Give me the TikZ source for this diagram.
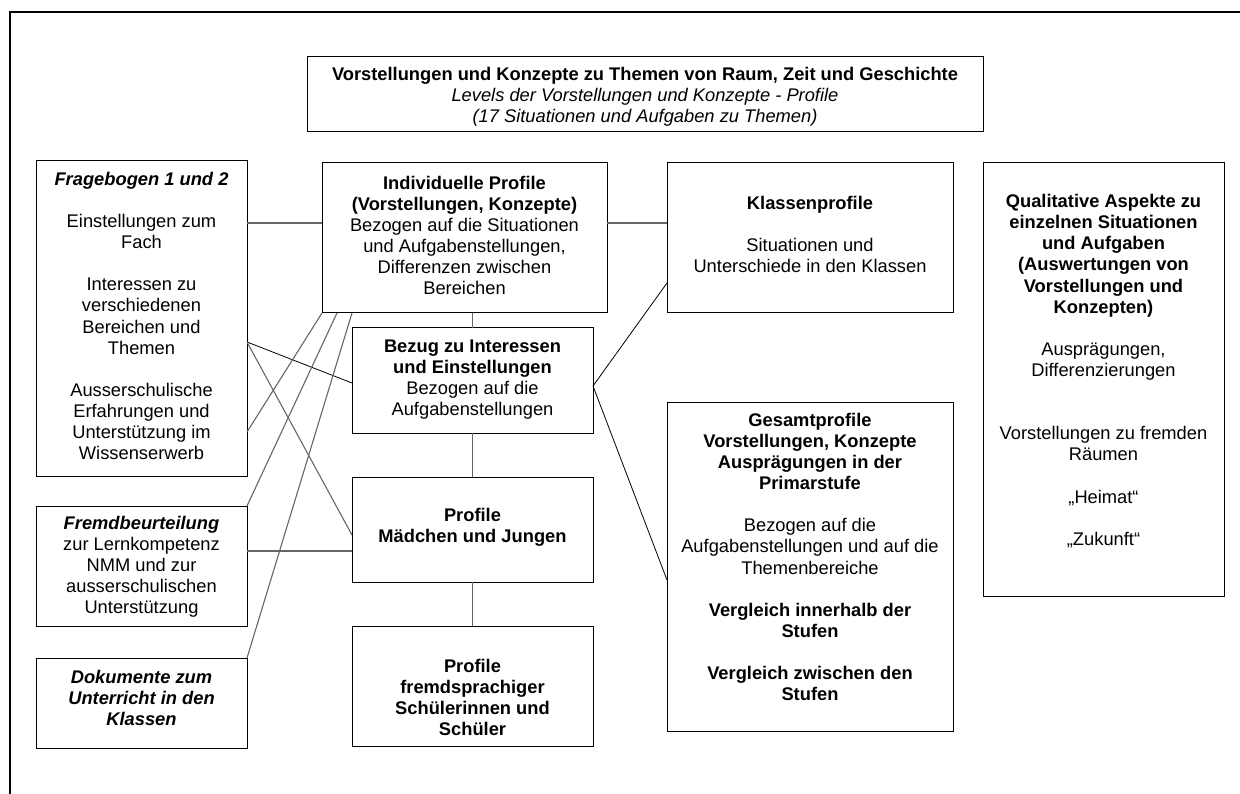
\documentclass[tikz,border=0pt]{standalone}
\usepackage{fontspec}
\setmainfont{Liberation Sans}
\usetikzlibrary{calc}
\begin{document}
\begin{tikzpicture}[x=1pt,y=-1pt,
  box/.style={draw=black, line width=1pt, inner sep=0pt, outer sep=0pt},
  txt/.style={align=center, inner sep=0pt, font=\fontsize{18.3}{21.1}\selectfont},
  conn/.style={draw=black!60, line width=1.1pt},
  connd/.style={draw=black, line width=0.8pt},
  frame/.style={draw=black, line width=2.4pt}]
\useasboundingbox (0,0) rectangle (1240,794);
\draw[frame] (10,794) -- (10,12) -- (1240,12);

% boxes
\node[box, minimum width=676pt, minimum height=75pt] (title) at (645,94.5) {};
\node[box, minimum width=211pt, minimum height=315pt] (frage) at (141.5,318.5) {};
\node[box, minimum width=211pt, minimum height=120pt] (fremd) at (141.5,566) {};
\node[box, minimum width=211pt, minimum height=90pt] (doku) at (141.5,703) {};
\node[box, minimum width=285pt, minimum height=150pt] (indiv) at (464.5,238) {};
\node[box, minimum width=241pt, minimum height=105pt] (bezug) at (472.5,380.5) {};
\node[box, minimum width=241pt, minimum height=105pt] (maed) at (472.5,529.5) {};
\node[box, minimum width=241pt, minimum height=120pt] (fremdspr) at (472.5,686) {};
\node[box, minimum width=286pt, minimum height=150pt] (klass) at (810,238) {};
\node[box, minimum width=286pt, minimum height=329pt] (gesamt) at (810,566.5) {};
\node[box, minimum width=241pt, minimum height=433pt] (qual) at (1103.5,379.5) {};

% texts
\node[txt] (title-t) at (645,97) {\textbf{Vorstellungen und Konzepte zu Themen von Raum, Zeit und Geschichte}\\
\textit{Levels der Vorstellungen und Konzepte - Profile}\\
\textit{(17 Situationen und Aufgaben zu Themen)}};

\node[txt] (frage-t) at (141.5,316) {\textbf{\textit{Fragebogen 1 und 2}}\\[21.1pt]
Einstellungen zum\\ Fach\\[21.1pt]
Interessen zu\\ verschiedenen\\ Bereichen und\\ Themen\\[21.1pt]
Ausserschulische\\ Erfahrungen und\\ Unterstützung im\\ Wissenserwerb};

\node[txt] (fremd-t) at (141.5,567) {\textbf{\textit{Fremdbeurteilung}}\\
zur Lernkompetenz\\ NMM und zur\\ ausserschulischen\\ Unterstützung};

\node[txt] (doku-t) at (141.5,698) {\textbf{\textit{Dokumente zum}}\\
\textbf{\textit{Unterricht in den}}\\ \textbf{\textit{Klassen}}};

\node[txt] (indiv-t) at (464.5,235.5) {\textbf{Individuelle Profile}\\
\textbf{(Vorstellungen, Konzepte)}\\
Bezogen auf die Situationen\\ und Aufgabenstellungen,\\
Differenzen zwischen\\ Bereichen};

\node[txt] (bezug-t) at (472.5,379.5) {\textbf{Bezug zu Interessen}\\
\textbf{und Einstellungen}\\ Bezogen auf die\\ Aufgabenstellungen};

\node[txt] (maed-t) at (472.5,527.5) {\textbf{Profile}\\ \textbf{Mädchen und Jungen}};

\node[txt] (fremdspr-t) at (472.5,697.5) {\textbf{Profile}\\ \textbf{fremdsprachiger}\\
\textbf{Schülerinnen und}\\ \textbf{Schüler}};

\node[txt] (klass-t) at (810,234.5) {\textbf{Klassenprofile}\\[21.1pt]
Situationen und\\ Unterschiede in den Klassen};

\node[txt] (gesamt-t) at (810,557) {\textbf{Gesamtprofile}\\
\textbf{Vorstellungen, Konzepte}\\ \textbf{Ausprägungen in der}\\ \textbf{Primarstufe}\\[21.1pt]
Bezogen auf die\\ Aufgabenstellungen und auf die\\ Themenbereiche\\[21.1pt]
\textbf{Vergleich innerhalb der}\\ \textbf{Stufen}\\[21.1pt]
\textbf{Vergleich zwischen den}\\ \textbf{Stufen}};

\node[txt] (qual-t) at (1103.5,371) {\textbf{Qualitative Aspekte zu}\\
\textbf{einzelnen Situationen}\\ \textbf{und Aufgaben}\\ \textbf{(Auswertungen von}\\
\textbf{Vorstellungen und}\\ \textbf{Konzepten)}\\[21.1pt]
Ausprägungen,\\ Differenzierungen\\[42.2pt]
Vorstellungen zu fremden\\ Räumen\\[21.1pt]
„Heimat“\\[21.1pt]
„Zukunft“};

% connectors
\draw[conn] ($(frage.north east)+(0,62)$) -- ($(indiv.north west)+(0,60)$);
\draw[connd] ($(frage.north east)+(0,181)$) -- ($(bezug.north west)+(0,55)$);
\draw[conn] ($(frage.north east)+(0,181)$) -- ($(maed.north west)+(0,58)$);
\draw[conn] ($(frage.north east)+(0,271)$) -- (indiv.south west);
\draw[conn] (fremd.north east) -- ($(indiv.south west)+(15,0)$);
\draw[conn] ($(fremd.north east)+(0,45)$) -- ($(maed.north west)+(0,74)$);
\draw[conn] (doku.north east) -- ($(indiv.south west)+(30,0)$);
\draw[conn] ($(indiv.north east)+(0,60)$) -- ($(klass.north west)+(0,60)$);
\draw[conn] (bezug.north |- indiv.south) -- (bezug.north);
\draw[conn] (bezug.south) -- (maed.north);
\draw[conn] (maed.south) -- (fremdspr.north);
\draw[connd] ($(bezug.north east)+(0,58)$) -- ($(klass.north west)+(0,120)$);
\draw[connd] ($(bezug.north east)+(0,58)$) -- ($(gesamt.north west)+(0,178)$);
\end{tikzpicture}
\end{document}
